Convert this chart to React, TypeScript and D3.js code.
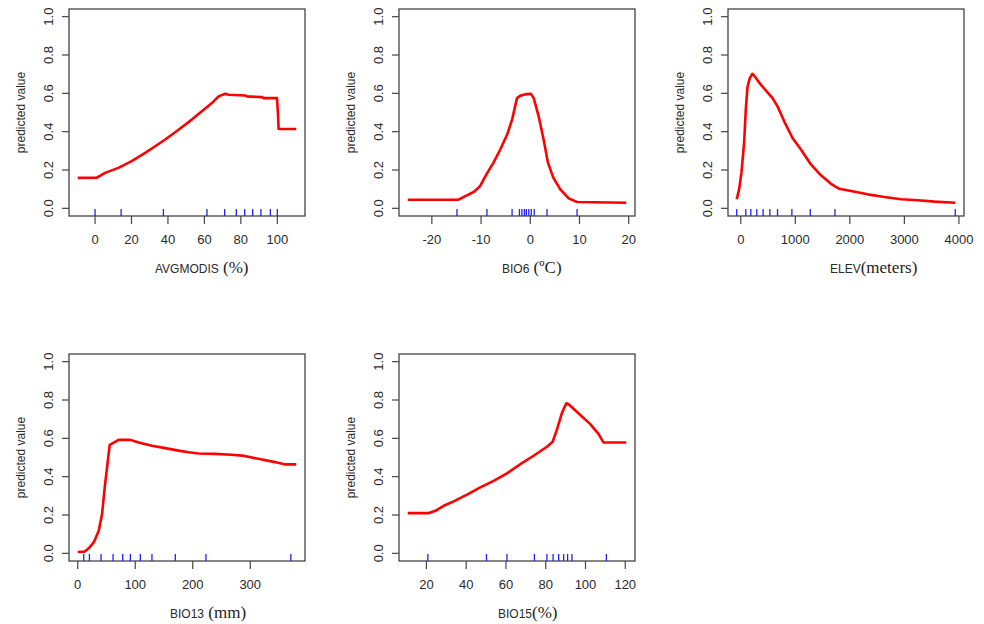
import React from "react";
import * as d3 from "d3";

// response curves (x, predicted value)
const avgmodisX = [-9.5, 1, 5.5, 12.8, 20.1, 27.5, 33, 38.5, 45.8, 53.1, 58.6, 64.1, 67.8, 71.4, 73.3, 82.4, 83.3, 91.6, 92.5, 99.8, 100.4, 100.7, 110.4];
const avgmodisY = [0.159, 0.16, 0.185, 0.211, 0.246, 0.289, 0.324, 0.359, 0.41, 0.463, 0.506, 0.549, 0.584, 0.598, 0.593, 0.589, 0.584, 0.58, 0.575, 0.575, 0.489, 0.414, 0.414];
const avgmodisRug = [0, 14.3, 37.5, 61.4, 71.1, 77.5, 82.1, 86.5, 91, 96.2, 100];

const bio6X = [-24.9, -14.6, -13.2, -11.5, -10.2, -8.8, -7.5, -6.1, -4.7, -3.7, -2.7, -2.0, -0.7, 0.1, 0.7, 1.7, 2.7, 3.6, 4.7, 6.1, 7.8, 9.5, 19.5];
const bio6Y = [0.045, 0.045, 0.064, 0.085, 0.116, 0.182, 0.237, 0.307, 0.385, 0.463, 0.575, 0.588, 0.596, 0.598, 0.575, 0.48, 0.359, 0.237, 0.159, 0.099, 0.052, 0.033, 0.029];
const bio6Rug = [-14.9, -8.8, -3.7, -2.2, -1.7, -1.2, -0.8, -0.3, 0.2, 0.8, 3.4, 9.5];

const elevX = [-74, -31, 12, 61, 92, 123, 165, 214, 257, 368, 490, 582, 674, 796, 949, 1103, 1286, 1470, 1654, 1807, 2021, 2328, 2634, 2940, 3247, 3553, 3933];
const elevY = [0.047, 0.099, 0.185, 0.341, 0.515, 0.633, 0.679, 0.702, 0.688, 0.645, 0.605, 0.575, 0.532, 0.454, 0.367, 0.307, 0.229, 0.172, 0.128, 0.102, 0.09, 0.073, 0.059, 0.047, 0.042, 0.035, 0.029];
const elevRug = [-74, 92, 184, 294, 410, 533, 674, 937, 1274, 1727, 3933];

const bio13X = [0, 12.2, 19.1, 27.8, 36.5, 42.3, 46.9, 51, 55.6, 62.5, 71.2, 91.5, 106, 129, 152, 175, 193, 210, 239, 268, 286, 314, 343, 361, 380];
const bio13Y = [0.007, 0.009, 0.026, 0.057, 0.118, 0.205, 0.344, 0.448, 0.566, 0.578, 0.592, 0.592, 0.578, 0.561, 0.549, 0.536, 0.527, 0.521, 0.519, 0.514, 0.51, 0.493, 0.476, 0.464, 0.464];
const bio13Rug = [10.4, 20.3, 40.5, 61.4, 78.2, 91.5, 108.9, 129.1, 169.7, 223, 370.6];

const bio15X = [10.6, 21.2, 24.5, 28.7, 33.7, 40.4, 47.1, 53.8, 60.5, 67.2, 73.9, 80.6, 83.5, 85.7, 88.2, 90.4, 91.5, 97.4, 102.4, 106.6, 109.1, 120.5];
const bio15Y = [0.21, 0.21, 0.222, 0.248, 0.271, 0.306, 0.344, 0.378, 0.417, 0.465, 0.509, 0.556, 0.582, 0.648, 0.734, 0.783, 0.778, 0.722, 0.674, 0.622, 0.578, 0.578];
const bio15Rug = [20.7, 50.2, 60.5, 74.3, 80.6, 83.7, 86.5, 89, 91, 93.2, 110.5];

// axis ticks
const yTicks = [0, 0.2, 0.4, 0.6, 0.8, 1.0];
const avgmodisTicks = [0, 20, 40, 60, 80, 100];
const bio6Ticks = [-20, -10, 0, 10, 20];
const elevTicks = [0, 1000, 2000, 3000, 4000];
const bio13Ticks = [0, 100, 200, 300];
const bio15Ticks = [20, 40, 60, 80, 100, 120];

// axis titles: variable name + unit
const varNames = ["AVGMODIS", "BIO6", "ELEV", "BIO13", "BIO15"];
const varUnits = [" (%)", " (\u00baC)", "(meters)", " (mm)", "(%)"];

const panels = [
  { xs: avgmodisX, ys: avgmodisY, rug: avgmodisRug, ticks: avgmodisTicks },
  { xs: bio6X, ys: bio6Y, rug: bio6Rug, ticks: bio6Ticks },
  { xs: elevX, ys: elevY, rug: elevRug, ticks: elevTicks },
  { xs: bio13X, ys: bio13Y, rug: bio13Rug, ticks: bio13Ticks },
  { xs: bio15X, ys: bio15Y, rug: bio15Rug, ticks: bio15Ticks },
];

// layout
const boxLefts = [69, 399, 728, 69, 399];
const boxTops = [9, 9, 9, 354, 354];
const labelOffsets = [86, 103, 102, 101, 99];
const boxW = 236;
const boxH = 207;
const sans = "Liberation Sans, Arial, sans-serif";
const serif = "Liberation Serif, Times New Roman, serif";
const textCol = "#2a2a2a";

const Panel = ({ p, i }) => {
  const left = boxLefts[i];
  const top = boxTops[i];
  // R style 4% padding on both axes
  const [lo, hi] = d3.extent(p.xs);
  const pad = (hi - lo) * 0.04;
  const x = d3.scaleLinear().domain([lo - pad, hi + pad]).range([left, left + boxW]);
  const y = d3.scaleLinear().domain([-0.04, 1.04]).range([top + boxH, top]);
  const line = d3
    .line()
    .x((d) => x(d[0]))
    .y((d) => y(d[1]));
  const pts = p.xs.map((v, k) => [v, p.ys[k]]);
  const bottom = top + boxH;

  return (
    <g>
      <rect x={left} y={top} width={boxW} height={boxH} fill="none" stroke="#444" strokeWidth={1.3} />
      {/* y axis */}
      {yTicks.map((t) => (
        <g key={"y" + t}>
          <line x1={left} x2={left - 7} y1={y(t)} y2={y(t)} stroke="#444" strokeWidth={1.2} />
          <text
            transform={`translate(${left - 21},${y(t)}) rotate(-90)`}
            textAnchor="middle"
            dy="0.35em"
            fontFamily={sans}
            fontSize={13}
            fill={textCol}
          >
            {t.toFixed(1)}
          </text>
        </g>
      ))}
      {/* x axis */}
      {p.ticks.map((t) => (
        <g key={"x" + t}>
          <line x1={x(t)} x2={x(t)} y1={bottom} y2={bottom + 8} stroke="#444" strokeWidth={1.2} />
          <text x={x(t)} y={bottom + 28} textAnchor="middle" fontFamily={sans} fontSize={13} fill={textCol}>
            {t}
          </text>
        </g>
      ))}
      {/* rug */}
      {p.rug.map((r, k) => (
        <line key={"r" + k} x1={x(r)} x2={x(r)} y1={bottom} y2={bottom - 7} stroke="#2020ff" strokeWidth={1.3} />
      ))}
      <path d={line(pts)} fill="none" stroke="#ff0000" strokeWidth={2.6} strokeLinejoin="round" />
      <text
        transform={`translate(${left - 48},${top + boxH / 2}) rotate(-90)`}
        textAnchor="middle"
        dy="0.35em"
        fontFamily={sans}
        fontSize={12}
        fill={textCol}
      >
        predicted value
      </text>
      <text x={left + labelOffsets[i]} y={bottom + 57} fill={textCol}>
        <tspan fontFamily={sans} fontSize={12}>
          {varNames[i]}
        </tspan>
        <tspan fontFamily={serif} fontSize={17} fill="#222">
          {varUnits[i]}
        </tspan>
      </text>
    </g>
  );
};

export default function App() {
  return (
    <svg width={984} height={624} style={{ position: "absolute", left: 0, top: 0, background: "#fff" }}>
      {panels.map((p, i) => (
        <Panel key={i} p={p} i={i} />
      ))}
    </svg>
  );
}
